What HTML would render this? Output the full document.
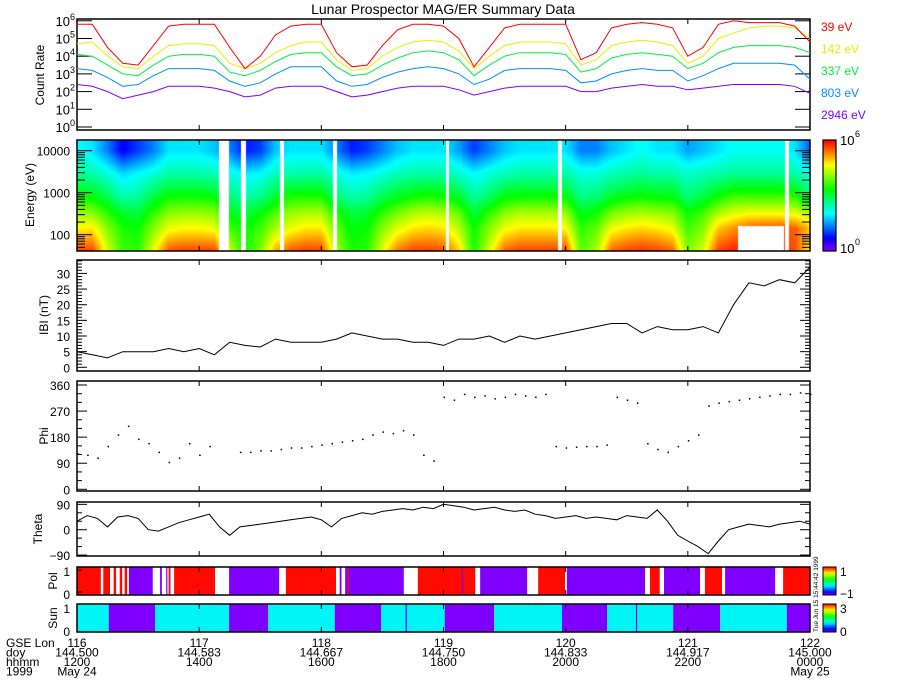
<!DOCTYPE html>
<html><head><meta charset="utf-8">
<style>
html,body{margin:0;padding:0;background:#fff;}
#wrap{position:relative;width:900px;height:700px;overflow:hidden;font-family:"Liberation Sans",sans-serif;}
svg{position:absolute;left:0;top:0;}
canvas{position:absolute;}
</style></head>
<body>
<div id="wrap">
<canvas id="spec" width="733" height="111" style="left:77px;top:140px;"></canvas>
<canvas id="cbar" width="13" height="111" style="left:823px;top:140px;"></canvas>
<svg id="svg" width="900" height="700" xmlns="http://www.w3.org/2000/svg"></svg>
</div>
<script>
// ---- data (15-minute samples from 12:00 to 24:00, log10 count rate) ----
const countTimes15 = [];
for (let i = 0; i <= 48; i++) countTimes15.push(12 + i * 0.25);
const rate39 = [5.8,5.8,4.5,3.6,3.5,4.6,5.7,5.8,5.8,5.8,4.5,3.3,4.0,5.2,5.7,5.8,5.8,4.2,3.4,3.5,4.6,5.5,5.8,5.8,5.7,5.0,3.4,4.5,5.6,5.8,5.8,5.8,5.8,3.8,4.2,5.6,5.8,5.9,5.8,5.6,4.0,4.5,5.8,6.0,5.9,5.9,5.9,5.7,4.8];
const rate142 = [4.7,4.8,4.0,3.4,3.3,4.0,4.6,4.7,4.7,4.6,3.6,3.3,3.6,4.2,4.6,4.8,4.8,3.8,3.2,3.3,4.0,4.5,4.8,4.9,4.8,4.3,3.3,4.0,4.6,4.8,4.8,4.8,4.7,3.5,3.8,4.6,4.8,4.9,4.8,4.6,3.6,4.0,5.0,5.3,5.6,5.7,5.7,5.6,5.0];
const rate337 = [4.1,4.0,3.5,3.0,2.9,3.5,4.0,4.1,4.1,4.0,3.1,2.9,3.2,3.7,4.1,4.2,4.2,3.4,2.9,3.0,3.5,3.9,4.2,4.3,4.2,3.8,2.9,3.5,4.0,4.2,4.2,4.2,4.1,3.1,3.3,3.9,4.1,4.2,4.1,4.0,3.3,3.6,4.2,4.5,4.6,4.6,4.6,4.5,4.2];
const rate803 = [3.3,3.2,2.8,2.3,2.4,2.9,3.3,3.3,3.3,3.2,2.6,2.3,2.5,3.0,3.4,3.4,3.4,2.6,2.3,2.4,2.8,3.1,3.3,3.4,3.3,3.0,2.4,2.7,3.2,3.3,3.3,3.3,3.2,2.5,2.6,3.0,3.2,3.3,3.2,3.2,2.6,2.9,3.3,3.6,3.6,3.6,3.6,3.5,2.7];
const rate2946 = [2.4,2.3,2.0,1.6,1.8,2.0,2.3,2.3,2.3,2.2,2.0,1.7,1.8,2.2,2.3,2.3,2.3,2.0,1.7,1.8,2.0,2.2,2.3,2.3,2.3,2.1,1.8,2.0,2.2,2.3,2.3,2.3,2.3,2.0,2.0,2.2,2.3,2.4,2.3,2.3,2.1,2.2,2.3,2.4,2.4,2.4,2.4,2.3,1.9];
const channelLabels = ["39 eV","142 eV","337 eV","803 eV","2946 eV"];
const channelEnergies = [39,142,337,803,2946];
const spectrogramGaps = [[14.33,14.49],[14.69,14.77],[15.32,15.39],[16.19,16.25],[18.04,18.09],[19.88,19.94],[23.59,23.65]];
const lowEnergyMasks = [[22.82,23.58,2.2]];
const bTimes15 = countTimes15;
const bMag = [5,4,3,5,5,5,6,5,6,4,8,7,6.5,9,8,8,8,9,11,10,9,9,8,8,7,9,9,10,8,10,9,10,11,12,13,14,14,11,13,12,12,13,11,20,27,26,28,27,32];
// ---- 10-minute samples ----
const angTimes10 = [];
for (let i = 0; i <= 72; i++) angTimes10.push(12 + i / 6);
const phi = [125,120,110,150,190,220,175,160,130,95,110,160,120,150,null,null,130,130,135,135,140,145,145,150,155,160,165,170,175,190,200,195,205,190,120,100,320,310,330,320,325,315,320,330,325,320,330,150,145,148,150,150,155,320,310,300,160,140,130,150,170,190,290,300,305,310,315,320,325,330,330,335,330];
const theta = [30,50,40,10,45,50,40,0,-5,10,25,35,45,55,10,-20,10,15,20,25,30,35,40,45,35,10,40,50,60,55,65,70,75,70,80,75,90,85,80,70,75,80,70,65,70,55,50,40,45,50,40,45,40,35,50,45,40,70,30,-20,-40,-60,-85,-40,0,10,20,15,10,20,25,30,20];
const polSegments = [[12.00,12.39,1],[12.43,12.54,1],[12.60,12.64,1],[12.70,12.74,1],[12.78,12.82,1],[12.85,13.24,-1],[13.36,13.39,-1],[13.46,13.48,-1],[13.50,13.53,1],[13.59,14.26,1],[14.49,15.31,-1],[15.42,16.24,1],[16.30,16.33,-1],[16.39,17.35,-1],[16.43,16.45,1],[17.58,18.52,1],[18.30,18.32,-1],[18.60,19.37,-1],[19.55,19.99,1],[20.02,21.30,-1],[21.38,21.54,1],[21.61,22.20,-1],[22.28,22.56,1],[22.61,23.43,-1],[23.56,24.00,1]];
const sunSegments = [[12.00,12.52,1],[12.52,13.28,0],[13.28,14.49,1],[14.49,15.13,0],[15.13,16.22,1],[16.22,16.98,0],[16.98,18.02,1],[17.38,17.40,0],[18.02,18.83,0],[18.83,19.94,1],[19.94,20.68,0],[20.68,21.76,1],[21.15,21.17,0],[21.76,22.53,0],[22.53,23.62,1],[23.62,24.00,0]];
const xTickLon = ["116","117","118","119","120","121","122"];
const xTickDoy = ["144.500","144.583","144.667","144.750","144.833","144.917","145.000"];
const xTickHhmm = ["1200","1400","1600","1800","2000","2200","0000"];
const xTickHours = [12,14,16,18,20,22,24];

// ---- scales ----
const X0 = 77, X1 = 810;
function X(t){ return X0 + (t - 12) * (X1 - X0) / 12; }
function Ycount(v){ return 127 - 17.7 * v; }
function Yenergy(le){ return 150.7 - (le - 4) * 42; }
function Yb(b){ return 367.3 - 3.13 * b; }
function Yphi(p){ return 489.3 - 0.2897 * p; }
function Ytheta(t){ return 529.7 - 0.2817 * t; }

const svg = document.getElementById('svg');
const NS = 'http://www.w3.org/2000/svg';
function mk(tag, attrs, parent){
  const e = document.createElementNS(NS, tag);
  for (const k in attrs) e.setAttribute(k, attrs[k]);
  (parent || svg).appendChild(e);
  return e;
}
function txt(x, y, s, size, fill, anchor, parent){
  const t = mk('text', {x:x, y:y, 'font-size':size, fill:fill||'#000', 'text-anchor':anchor||'start', 'font-family':'Liberation Sans, sans-serif'}, parent);
  t.textContent = s;
  return t;
}
function colormap(f){
  f = Math.max(0, Math.min(1, f));
  return 'hsl(' + (270 * (1 - f)) + ',100%,50%)';
}
function rgbFromFrac(f){
  f = Math.max(0, Math.min(1, f));
  const h = 270 * (1 - f) / 60;
  const c = 1, xx = 1 - Math.abs(h % 2 - 1);
  let r=0,g=0,b=0;
  if (h < 1){r=c;g=xx;} else if (h<2){r=xx;g=c;} else if (h<3){g=c;b=xx;} else if (h<4){g=xx;b=c;} else {r=xx;b=c;}
  return [r*255,g*255,b*255];
}

// Title
const title = txt(443, 14, 'Lunar Prospector MAG/ER Summary Data', 14, '#000', 'middle');



function frame(y0, y1, name){
  const r = mk('rect', {x:X0, y:y0, width:X1-X0, height:y1-y0, fill:'none', stroke:'#000', 'stroke-width':1.5});
  
  
  xTickHours.forEach(h => {
    mk('line', {x1:X(h), x2:X(h), y1:y1, y2:y1-5, stroke:'#000'});
    mk('line', {x1:X(h), x2:X(h), y1:y0, y2:y0+5, stroke:'#000'});
  });
}
function ytick(y, len, both){
  mk('line', {x1:X0, x2:X0+len, y1:y, y2:y, stroke:'#000'});
  if (both) mk('line', {x1:X1, x2:X1-len, y1:y, y2:y, stroke:'#000'});
}
function ylabel(x, y, s, name){
  const t = txt(x, y, s, 12, '#000', 'middle');
  t.setAttribute('transform', 'rotate(-90 ' + x + ' ' + y + ')');
  
  
}
function polyline(times, vals, yf, color, name, w){
  let segs = [], cur = [];
  times.forEach((t,i) => {
    if (vals[i] === null) { if (cur.length) segs.push(cur); cur = []; }
    else cur.push(X(t).toFixed(1) + ',' + yf(vals[i]).toFixed(1));
  });
  if (cur.length) segs.push(cur);
  segs.forEach(s => {
    const p = mk('polyline', {points:s.join(' '), fill:'none', stroke:color, 'stroke-width':w||1});
    
    
  });
}

// ---- Panel 1: count rates ----
frame(19, 130, 'count-rate-panel');
for (let d = 0; d <= 6; d++){
  ytick(Ycount(d), 15, true);
  const t = txt(70, Ycount(d) + 5, '10', 13, '#000', 'end');
  
  
  const s = txt(70, Ycount(d) - 1, String(d), 9, '#000', 'start');
  
  
}
ylabel(44, 75, 'Count Rate', 'count-rate-axis-title');
const chanColors = ['#ff0000','#e8f000','#00f040','#0090ff','#8000ff'];
const chanData = [rate39, rate142, rate337, rate803, rate2946];
for (let c = 4; c >= 0; c--){
  polyline(countTimes15, chanData[c], v => Math.max(20, Ycount(v)), chanColors[c], 'count-rate-line-' + channelEnergies[c] + 'ev');
  const l = txt(821, 31 + c * 22, channelLabels[c], 12, chanColors[c]);
  
  
}

// ---- Panel 2: spectrogram ----
const chanLogE = channelEnergies.map(e => Math.log10(e));
function valueAt(arr, t){
  const f = (t - 12) / 0.25;
  const i = Math.min(47, Math.max(0, Math.floor(f)));
  const u = Math.min(1, Math.max(0, f - i));
  return arr[i] * (1 - u) + arr[i + 1] * u;
}
(function(){
  const cv = document.getElementById('spec');
  const ctx = cv.getContext('2d');
  const W = cv.width, H = cv.height;
  const img = ctx.createImageData(W, H);
  for (let px = 0; px < W; px++){
    const t = 12 + (px + 0.5) * 12 / (X1 - X0);
    const vals = chanData.map(a => valueAt(a, t));
    const inGap = spectrogramGaps.some(g => t >= g[0] && t <= g[1]);
    for (let py = 0; py < H; py++){
      const idx = (py * W + px) * 4;
      const le = 4 - (140 + py + 0.5 - 150.7) / 42;
      let masked = inGap;
      lowEnergyMasks.forEach(m => { if (t >= m[0] && t <= m[1] && le < m[2]) masked = true; });
      if (masked){ img.data[idx]=255; img.data[idx+1]=255; img.data[idx+2]=255; img.data[idx+3]=255; continue; }
      let v;
      if (le <= chanLogE[0]) v = vals[0];
      else if (le >= chanLogE[4]){
        const top = 1.93 * vals[4] - 2.75;
        const u = Math.min(1, (le - chanLogE[4]) / (4.0 - chanLogE[4]));
        v = vals[4] * (1 - u) + top * u;
      } else {
        let k = 0; while (le > chanLogE[k + 1]) k++;
        const u = (le - chanLogE[k]) / (chanLogE[k + 1] - chanLogE[k]);
        v = vals[k] * (1 - u) + vals[k + 1] * u;
      }
      const rgb = rgbFromFrac(0.05 + 0.155 * v);
      img.data[idx]=rgb[0]; img.data[idx+1]=rgb[1]; img.data[idx+2]=rgb[2]; img.data[idx+3]=255;
    }
  }
  ctx.putImageData(img, 0, 0);
  const cb = document.getElementById('cbar');
  const c2 = cb.getContext('2d');
  for (let py = 0; py < cb.height; py++){
    c2.fillStyle = colormap(1 - py / (cb.height - 1));
    c2.fillRect(0, py, cb.width, 1);
  }
})();
frame(140, 251, 'spectrogram-panel');
mk('rect', {x:823, y:140, width:13, height:111, fill:'none', stroke:'#000', 'stroke-width':1.2});
[[6,143],[0,251]].forEach(p => {
  txt(840, p[1] + 2, '10', 13, '#000');
  txt(855, p[1] - 6, String(p[0]), 9, '#000');
});
[100,1000,10000].forEach(e => {
  ytick(Yenergy(Math.log10(e)), 15, true);
  const t = txt(70, Yenergy(Math.log10(e)) + 5, String(e), 12, '#000', 'end');
  
  
});
for (let d = 1; d <= 4; d++) for (let m = 2; m <= 9; m++){
  const y = Yenergy(d + Math.log10(m));
  if (y > 141 && y < 250) ytick(y, 8, true);
}
ylabel(34, 195, 'Energy (eV)', 'energy-axis-title');

// ---- Panel 3: |B| ----
frame(260, 371, 'b-magnitude-panel');
for (let b = 0; b <= 34; b++) ytick(Yb(b), b % 5 === 0 ? 10 : 5, true);
for (let b = 0; b <= 30; b += 5){
  const t = txt(70, Yb(b) + 5, String(b), 12, '#000', 'end');
  
  
}
ylabel(48, 315, 'IBI (nT)', 'b-axis-title');
polyline(bTimes15, bMag, Yb, '#000', 'b-magnitude-line');

// ---- Panel 4: Phi ----
frame(381, 491, 'phi-panel');
for (let p = 0; p <= 360; p += 30) ytick(Yphi(p), p % 90 === 0 ? 10 : 5, true);
[0,90,180,270,360].forEach(p => {
  const t = txt(70, Yphi(p) + 5, String(p), 12, '#000', 'end');
  
  
});
ylabel(48, 436, 'Phi', 'phi-axis-title');
angTimes10.forEach((t, i) => {
  if (phi[i] === null) return;
  const d = mk('rect', {x:X(t), y:Yphi(phi[i]), width:1.5, height:1.5, fill:'#000'});
  
  
});

// ---- Panel 5: Theta ----
frame(502, 556, 'theta-panel');
for (let a = -90; a <= 90; a += 30) ytick(Ytheta(a), a % 90 === 0 ? 10 : 5, true);
[-90,0,90].forEach(a => {
  const t = txt(70, Ytheta(a) + 5, a < 0 ? '\u221290' : String(a), 12, '#000', 'end');
  
  
});
ylabel(42, 529, 'Theta', 'theta-axis-title');
polyline(angTimes10, theta, Ytheta, '#000', 'theta-line');

// ---- Panel 6: Pol ----
polSegments.forEach(s => {
  const r = mk('rect', {x:X(s[0]), y:567, width:Math.max(1, X(s[1]) - X(s[0])), height:28, fill: s[2] > 0 ? '#ff0a00' : '#8000ff'});
  
  
});
frame(567, 595, 'pol-panel');
ytick(570, 5, false); ytick(592, 5, false);
txt(70, 576, '1', 12, '#000', 'end'); txt(70, 599, '0', 12, '#000', 'end');
ylabel(57, 581, 'Pol', 'pol-axis-title');
const pg = mk('defs', {});
const lg = mk('linearGradient', {id:'rb', x1:0, y1:1, x2:0, y2:0}, pg);
for (let i = 0; i <= 10; i++) mk('stop', {offset:i/10, 'stop-color':colormap(i/10)}, lg);
const polBar = mk('rect', {x:823, y:567, width:13, height:28, fill:'url(#rb)', stroke:'#000'});


txt(840, 576, '1', 12); txt(840, 598, '\u22121', 12);

// ---- Panel 7: Sun ----
sunSegments.forEach(s => {
  const r = mk('rect', {x:X(s[0]), y:604, width:Math.max(1, X(s[1]) - X(s[0])), height:28, fill: s[2] > 0 ? '#00f6f6' : '#8000ff'});
  
  
});
frame(604, 632, 'sun-panel');
txt(70, 613, '1', 12, '#000', 'end'); txt(70, 636, '0', 12, '#000', 'end');
ylabel(57, 618, 'Sun', 'sun-axis-title');
const sunBar = mk('rect', {x:823, y:604, width:13, height:28, fill:'url(#rb)', stroke:'#000'});


txt(840, 613, '3', 12); txt(840, 636, '0', 12);
const stamp = txt(818, 632, 'Tue Jun 15 15:44:42 1999', 6.5);
stamp.setAttribute('transform', 'rotate(-90 818 632)');



// ---- X axis annotation rows ----
['GSE Lon','doy','hhmm','1999'].forEach((s, i) => {
  const t = txt(6, 647 + i * 9.5, s, 12);
  
  
});
xTickHours.forEach((h, i) => {
  const rows = [xTickLon[i], xTickDoy[i], xTickHhmm[i]];
  rows.forEach((s, r) => {
    const t = txt(X(h), 647 + r * 9.5, s, 12, '#000', 'middle');
    
    
  });
});
txt(77, 675.5, 'May 24', 12, '#000', 'middle');
txt(810, 675.5, 'May 25', 12, '#000', 'middle');
</script>
</body></html>
